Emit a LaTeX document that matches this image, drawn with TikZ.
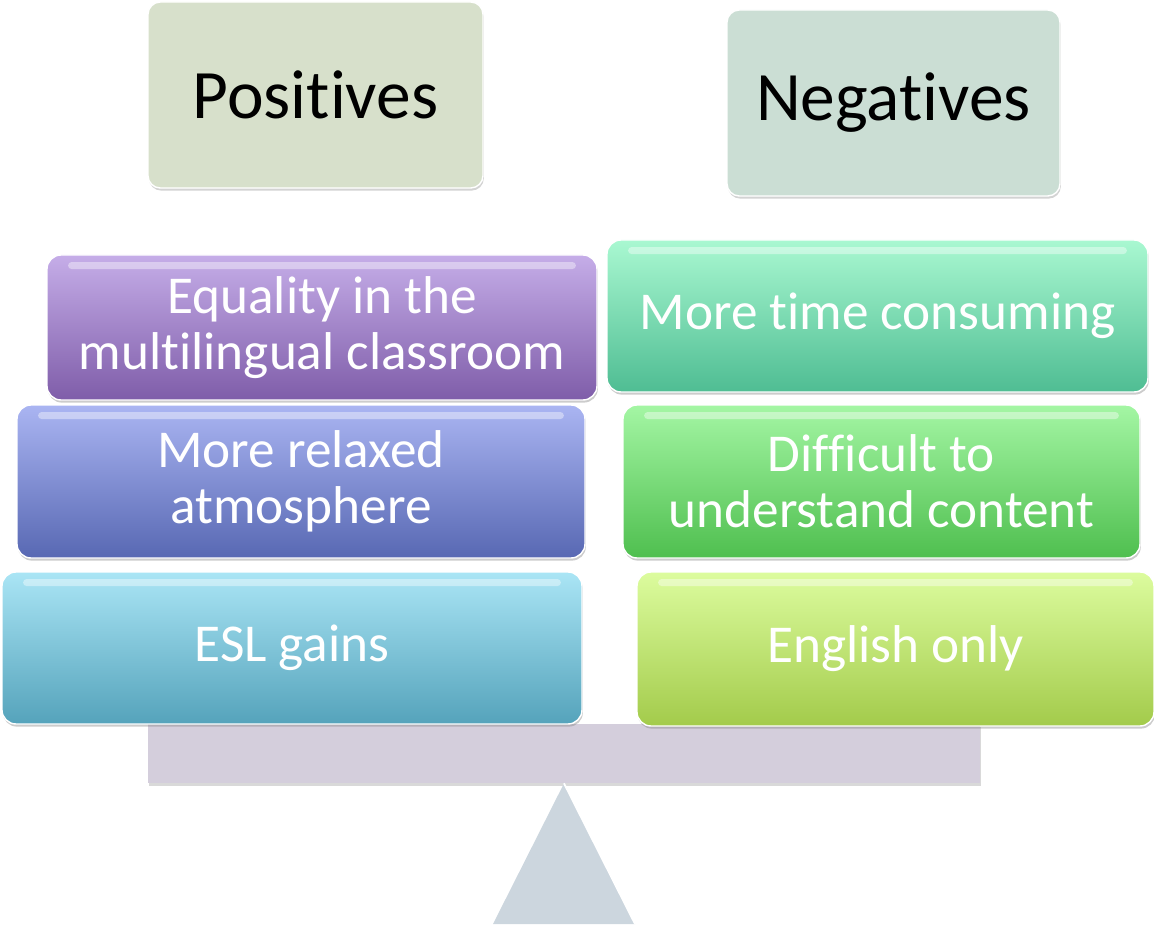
\documentclass[tikz,border=0pt]{standalone}
\usepackage{fontspec}
\setmainfont{Carlito}[Ligatures=NoCommon]
\usetikzlibrary{shadows,positioning}

\definecolor{posfill}{HTML}{D7E0CB}
\definecolor{negfill}{HTML}{CBDED4}
\definecolor{beamfill}{HTML}{D4CEDC}
\definecolor{standfill}{HTML}{CCD6DE}
\definecolor{eqtop}{HTML}{C5ADE8}
\definecolor{eqbot}{HTML}{7F5DA9}
\definecolor{relaxtop}{HTML}{AAB5F2}
\definecolor{relaxbot}{HTML}{5868B3}
\definecolor{esltop}{HTML}{AAE5F5}
\definecolor{eslbot}{HTML}{55A3BB}
\definecolor{timetop}{HTML}{A9F8D1}
\definecolor{timebot}{HTML}{4FBD93}
\definecolor{difftop}{HTML}{A4F6A4}
\definecolor{diffbot}{HTML}{4FBF4F}
\definecolor{engltop}{HTML}{DCFC9E}
\definecolor{englbot}{HTML}{A3CB4B}

\tikzset{
  head/.style={
      rounded corners=7pt, draw=white, line width=0.8pt,
      drop shadow={shadow xshift=0.5pt,shadow yshift=-1.5pt,opacity=0.35},
      font=\fontsize{39.5}{43}\selectfont, text=black},
  item/.style={
      rounded corners=8pt, draw=white, line width=0.8pt,
      top color=#1top, bottom color=#1bot,
      drop shadow={shadow xshift=0.5pt,shadow yshift=-1.5pt,opacity=0.4},
      align=center, text=white, font=\fontsize{30.3}{32}\selectfont,
      path picture={
          \fill[white,opacity=0.4,rounded corners=2pt]
            ([xshift=12pt,yshift=-4pt]path picture bounding box.north west)
            rectangle ([xshift=-12pt,yshift=-8pt]path picture bounding box.north east);
        }},
}
\def\PixelUnit {0.02cm}

\begin{document}
\begin{tikzpicture}[x=\PixelUnit,y=-\PixelUnit]
        \useasboundingbox (0,0) rectangle (1154,926);

        % the scale: beam and stand
        \node[fill=beamfill, minimum width=832*\PixelUnit, minimum height=59*\PixelUnit,
              inner sep=0pt, drop shadow={shadow xshift=0.5pt,shadow yshift=-1.5pt,opacity=0.3}]
              (beam) at (564,753.5) {};
        \fill[standfill] (beam.south) -- (493,924) -- (635,924) -- cycle;
        \draw[white,line width=1pt] (beam.south) -- (635,924);

        % headings
        \node[head, fill=posfill, minimum width=335*\PixelUnit, minimum height=186*\PixelUnit]
              (pos) at (315.5,95) {Positives};
        \node[head, fill=negfill, minimum width=333*\PixelUnit, minimum height=186*\PixelUnit]
              (neg) at (893.5,103) {Negatives};

        % left pan
        \node[item=eq, minimum width=550*\PixelUnit, minimum height=145*\PixelUnit]
              (eq) at (322,327.5) {Equality in the\\multilingual classroom};
        \node[item=relax, minimum width=568*\PixelUnit, minimum height=153*\PixelUnit]
              (relax) at (301,481.5) {More relaxed\\atmosphere};
        \node[item=esl, minimum width=580*\PixelUnit, minimum height=152*\PixelUnit]
              (esl) at (292,648) {ESL gains};

        % right pan
        \node[item=time, minimum width=541*\PixelUnit, minimum height=152*\PixelUnit]
              (time) at (877.5,316) {More time consuming};
        \node[item=diff, minimum width=517*\PixelUnit, minimum height=153*\PixelUnit]
              (diff) at (881.5,481.5) {Difficult to\\understand content};
        \node[item=engl, minimum width=517*\PixelUnit, minimum height=154*\PixelUnit]
              (engl) at (895.5,649) {English only};
      \end{tikzpicture}
\end{document}
